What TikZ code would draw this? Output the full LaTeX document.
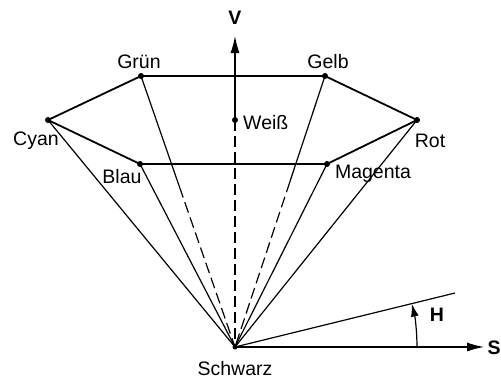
\documentclass[tikz,border=0pt]{standalone}
\usepackage{fontspec}
\setmainfont{Liberation Sans}
\usetikzlibrary{arrows.meta,calc}
\begin{document}
\begin{tikzpicture}[x=1pt,y=-1pt,
  edge/.style={line width=1.8pt},
  ray/.style={line width=1.2pt},
  hidden/.style={line width=1.2pt,dash pattern=on 11pt off 5pt},
  lbl/.style={font=\fontsize{19.5}{22}\selectfont,inner sep=0pt},
  axlbl/.style={font=\fontsize{19.5}{22}\selectfont\bfseries,inner sep=0pt},
  dot/.style={circle,fill=black,inner sep=0pt,minimum size=6pt}]
\useasboundingbox (0,0) rectangle (501,383);
% vertices
\node[dot] (gruen) at (141,76) {};
\node[dot] (gelb) at (325,76) {};
\node[dot] (cyan) at (48,120) {};
\node[dot] (rot) at (417,120) {};
\node[dot] (blau) at (140,164) {};
\node[dot] (magenta) at (327,164) {};
\node[dot] (weiss) at (235,120) {};
\node[dot,minimum size=5pt] (schwarz) at (235,347) {};
\coordinate (vtip) at (235,36);
\coordinate (stip) at (484,347);
\coordinate (hend) at (455,293);
\coordinate (gruenmid) at ($(gruen)!0.41!(schwarz)$);
\coordinate (gelbmid) at ($(gelb)!0.39!(schwarz)$);
% labels
\node[lbl] (tgruen) at (139,62) {Grün};
\node[lbl] (tgelb) at (328,62) {Gelb};
\node[lbl] (tcyan) at (36,141) {Cyan};
\node[lbl] (trot) at (430,141) {Rot};
\node[lbl] (tblau) at (122,177) {Blau};
\node[lbl] (tmagenta) at (373,174) {Magenta};
\node[lbl,anchor=west] (tweiss) at (243,123) {Weiß};
\node[lbl] (tschwarz) at (235,369) {Schwarz};
\node[axlbl] (tv) at (235,18) {V};
\node[axlbl] (th) at (437,315) {H};
\node[axlbl] (ts) at (494,348) {S};
% rays
\draw[ray] (cyan.center) -- (schwarz.center);
\draw[ray] (blau.center) -- (schwarz.center);
\draw[ray] (rot.center) -- (schwarz.center);
\draw[ray] (magenta.center) -- (schwarz.center);
\draw[ray] (gruen.center) -- (gruenmid);
\draw[hidden] (gruenmid) -- (schwarz.center);
\draw[ray] (gelb.center) -- (gelbmid);
\draw[hidden] (gelbmid) -- (schwarz.center);
\draw[hidden] (weiss.center) -- (schwarz.center);
% hexagon
\draw[edge,line join=round] (gruen.center) -- (gelb.center) -- (rot.center) -- (magenta.center) -- (blau.center) -- (cyan.center) -- cycle;
% axes
\draw[ray,-{Latex[length=17pt,width=9pt]}] (weiss.center) -- (vtip);
\draw[ray,-{Latex[length=17pt,width=9pt]}] (schwarz.center) -- (stip);
\draw[ray] (schwarz.center) -- (hend);
\draw[ray,-{Latex[length=13pt,width=8pt]}] (417,347) arc[start angle=0,end angle=-13.8,radius=182];
\end{tikzpicture}
\end{document}
